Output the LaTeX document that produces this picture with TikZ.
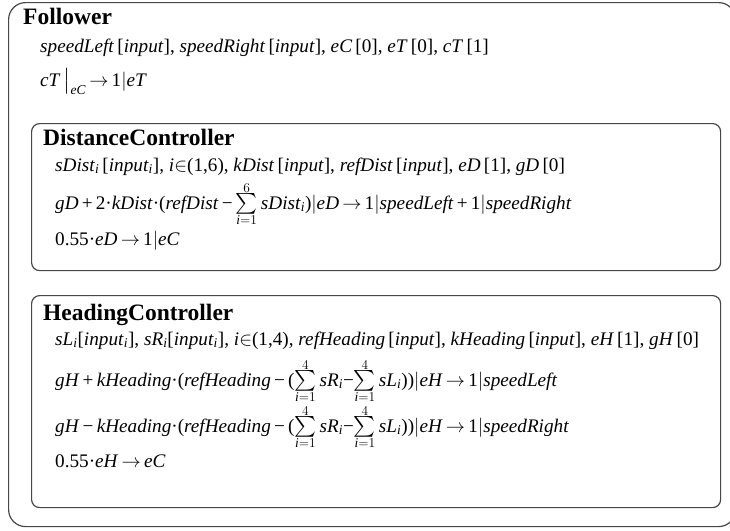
\RequirePackage{fix-cm}
\documentclass[tikz,border=0pt]{standalone}
\usepackage{amsmath}
\usepackage{fontspec}
\setmainfont{Liberation Serif}
\newcommand{\myv}[1]{\textit{#1}}
\newcommand{\isub}[1]{$_{\textit{#1}}$}
\newcommand{\myarr}{\,$\rightarrow$\,}
\newcommand{\mysum}[1]{$\vcenter{\offinterlineskip\halign{\hfil##\hfil\cr$\scriptstyle #1$\cr\noalign{\kern1pt}$\textstyle\sum$\cr\noalign{\kern0.5pt}$\scriptstyle \textit{i}=1$\cr}}$}
\newcommand{\mybar}{$|$}
\begin{document}
\begin{tikzpicture}[x=1pt,y=-1pt,
  frame/.style={draw=black!72, line width=1.2pt},
  ttl/.style={anchor=base west, inner sep=0pt, font=\fontsize{23.5}{26}\selectfont\bfseries},
  txt/.style={anchor=base west, inner sep=0pt, font=\fontsize{19.2}{22}\selectfont},
  ibox/.style={frame, rounded corners=8pt, anchor=north west, minimum width=689pt, inner sep=0pt}]
\useasboundingbox (0,0) rectangle (730,530);
\begin{scope}
\clip (0,0) rectangle (730,530);
\node[frame, rounded corners=17pt, anchor=north west, minimum width=727pt, minimum height=524pt, inner sep=0pt] (outer) at (8,2) {};
\end{scope}
% Follower
\node[ttl] (fol) at (23,24) {Follower};
\node[txt] (f1) at (40,52) {\myv{speedLeft}\,[\myv{input}], \myv{speedRight}\,[\myv{input}], \myv{eC}\,[0], \myv{eT}\,[0], \myv{cT}\,[1]};
\node[txt] (f2) at (40,86) {\myv{cT}\,$\big|_{\textit{eC}}$\myarr 1\mybar\myv{eT}};
% DistanceController
\node[ibox, minimum height=147pt] (dbox) at (31,123) {};
\node[ttl] (dtitle) at (43,145) {DistanceController};
\node[txt] (d1) at (55,171) {\myv{sDist}\isub{i}\,[\myv{input}\isub{i}], \myv{i}$\in$(1,6), \myv{kDist}\,[\myv{input}], \myv{refDist}\,[\myv{input}], \myv{eD}\,[1], \myv{gD}\,[0]};
\node[txt] (d2) at (55,209) {\myv{gD}\,+\,2·\myv{kDist}·(\myv{refDist}\,−\,\mysum{6}\,\myv{sDist}\isub{i})\mybar\myv{eD}\myarr 1\mybar\myv{speedLeft}\,+\,1\mybar\myv{speedRight}};
\node[txt] (d3) at (55,245) {0.55·\myv{eD}\myarr 1\mybar\myv{eC}};
% HeadingController
\node[ibox, minimum height=212pt] (hbox) at (31,295) {};
\node[ttl] (htitle) at (43,320) {HeadingController};
\node[txt] (h1) at (55,345) {\myv{sL}\isub{i}[\myv{input}\isub{i}], \myv{sR}\isub{i}[\myv{input}\isub{i}], \myv{i}$\in$(1,4), \myv{refHeading}\,[\myv{input}], \myv{kHeading}\,[\myv{input}], \myv{eH}\,[1], \myv{gH}\,[0]};
\node[txt] (h2) at (55,386) {\myv{gH}\,+\,\myv{kHeading}·(\myv{refHeading}\,−\,(\mysum{4}\,\myv{sR}\isub{i}−\mysum{4}\,\myv{sL}\isub{i}))\mybar\myv{eH}\myarr 1\mybar\myv{speedLeft}};
\node[txt] (h3) at (55,432) {\myv{gH}\,−\,\myv{kHeading}·(\myv{refHeading}\,−\,(\mysum{4}\,\myv{sR}\isub{i}−\mysum{4}\,\myv{sL}\isub{i}))\mybar\myv{eH}\myarr 1\mybar\myv{speedRight}};
\node[txt] (h4) at (55,467) {0.55·\myv{eH}\myarr\myv{eC}};
\end{tikzpicture}
\end{document}
